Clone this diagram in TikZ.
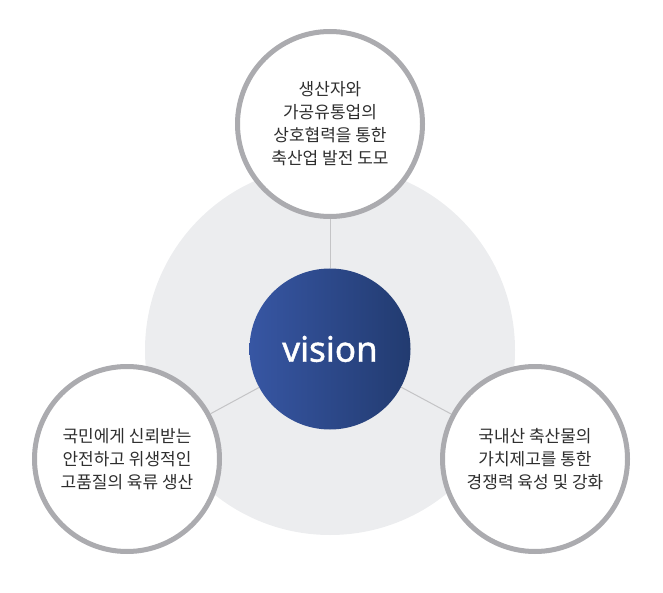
\documentclass[tikz,border=0pt]{standalone}
\usepackage{fontspec}
\usepackage{tikz}
\newfontfamily\krfont{Noto Sans CJK KR}
\newfontfamily\visionfont[FakeBold=1.2]{Noto Sans}
\definecolor{ringgray}{HTML}{ABABAF}
\definecolor{backgray}{HTML}{ECEDEF}
\definecolor{linegray}{HTML}{C4C4C6}
\definecolor{textgray}{HTML}{2E2E2E}
\definecolor{visionleft}{HTML}{3756A3}
\definecolor{visionright}{HTML}{223B70}
\newcommand{\goalsize}{185pt}
\tikzstyle{goal}=[circle, draw=ringgray, line width=5pt, fill=white, inner sep=0, minimum size=\goalsize,
                  align=center, text=textgray, font=\krfont\fontsize{17}{23}\selectfont]
\tikzstyle{vision}=[circle, inner sep=0, minimum size=161pt, left color=visionleft, right color=visionright,
                    text=white, font=\visionfont\fontsize{35}{40}\selectfont]
\tikzstyle{link}=[draw=linegray, line width=1pt]
\tikzstyle{visionmap}=[x=1pt, y=-1pt]

\begin{document}
\begin{tikzpicture}[visionmap]
        \useasboundingbox (0, 0) rectangle (663, 593);
        % background disc
        \fill[backgray] (330, 350) circle (185);
        \node[goal] (G1) at (330, 124) {생산자와\\가공유통업의\\상호협력을 통한\\축산업 발전 도모};
        \node[goal] (G2) at (127, 459) {국민에게 신뢰받는\\안전하고 위생적인\\고품질의 육류 생산};
        \node[goal] (G3) at (535, 459) {국내산 축산물의\\가치제고를 통한\\경쟁력 육성 및 강화};
        \node[vision] (V) at (330, 349) {vision};
        \draw[link] (V) -- (G1);
        \draw[link] (V) -- (G2);
        \draw[link] (V) -- (G3);
    \end{tikzpicture}
\end{document}
